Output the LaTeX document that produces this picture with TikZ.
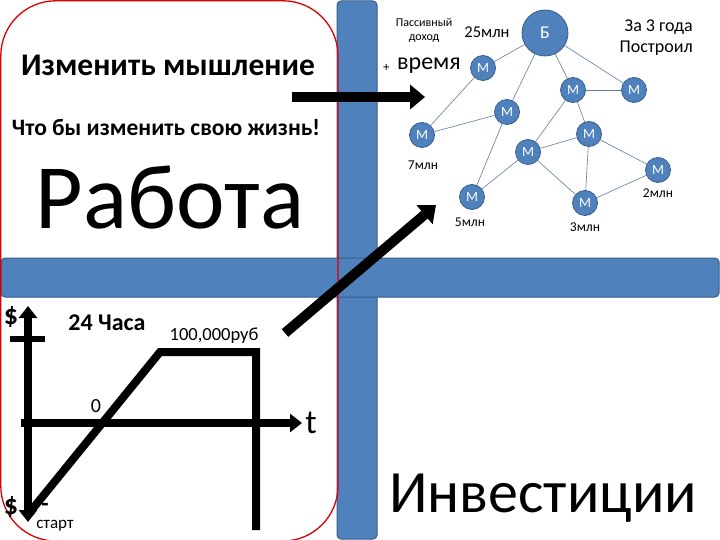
\documentclass[tikz,border=0pt]{standalone}
\usepackage{fontspec}
\setmainfont{Carlito}
\usetikzlibrary{arrows.meta}
\definecolor{barblue}{HTML}{4F81BD}
\definecolor{barline}{HTML}{385D8A}
\tikzset{
  bar/.style={fill=barblue, draw=barline, line width=1pt, rounded corners=4pt},
  fatarrow/.style={line width=10pt, -{Triangle[width=24pt,length=15pt]}},
  axisline/.style={line width=8pt},
  mnode/.style={circle, fill=barblue, draw=barline, line width=0.8pt, minimum size=25pt, inner sep=0pt, text=white, font=\fontsize{14}{14}\selectfont},
  bignode/.style={circle, fill=barblue, draw=barline, line width=0.8pt, minimum size=46pt, inner sep=0pt, text=white, font=\fontsize{18}{18}\selectfont},
  edge/.style={draw=barline!80, line width=0.6pt},
  lbl/.style={inner sep=0pt, font=\fontsize{13.5}{14}\selectfont},
}
\begin{document}
\begin{tikzpicture}[x=1pt,y=-1pt]
\useasboundingbox (0,0) rectangle (720,540);
\fill[white] (0,0) rectangle (720,540);
% bars
\draw[bar] (337,1) rectangle (377,539);
\draw[bar] (1,258) rectangle (719,297);
% red frame
\draw[red!85!black, line width=1.3pt, rounded corners=55pt] (0.8,0.8) rectangle (338,541);
% left texts
\node[inner sep=0pt, font=\bfseries\fontsize{31.5}{34}\selectfont] (t1) at (168,65) {Изменить мышление};
\node[inner sep=0pt, font=\bfseries\fontsize{23.5}{26}\selectfont] (t2) at (166,127) {Что бы изменить свою жизнь!};
\node[inner sep=0pt, font=\fontsize{92}{96}\selectfont] (t3) at (170,198) {Работа};
% arrows
\coordinate (a1s) at (292,97);
\coordinate (a1e) at (425,97);
\draw[fatarrow] (a1s) -- (a1e);
\coordinate (a2s) at (285,333);
\coordinate (a2e) at (436,205);
\draw[fatarrow] (a2s) -- (a2e);
% chart
\coordinate (vtop) at (28,306);
\coordinate (vbot) at (28,522);
\draw[axisline, {Triangle[width=18pt,length=12pt]}-{Triangle[width=18pt,length=12pt]}] (vbot) -- (vtop);
\coordinate (tk1) at (10,339);
\coordinate (tk2) at (45,339);
\draw[line width=6pt] (tk1) -- (tk2);
\coordinate (hs) at (21,423);
\coordinate (he) at (302,423);
\draw[axisline, -{Triangle[width=18pt,length=12pt]}] (hs) -- (he);
\coordinate (p0) at (30,512);
\coordinate (p1) at (160,352);
\coordinate (p2) at (256,352);
\coordinate (p3) at (256,530);
\draw[axisline, line join=miter] (p0) -- (p1) -- (p2) -- (p3);
\node[inner sep=0pt, font=\bfseries\fontsize{28}{28}\selectfont] (d1) at (11,317) {\$};
\node[inner sep=0pt, font=\bfseries\fontsize{24}{26}\selectfont] (h24) at (107,323) {24 Часа};
\node[inner sep=0pt, font=\fontsize{18.5}{20}\selectfont] (rub) at (214,336) {100,000руб};
\node[inner sep=0pt, font=\fontsize{20}{20}\selectfont] (zero) at (96,406) {0};
\node[inner sep=0pt, font=\fontsize{34}{34}\selectfont] (tt) at (311,423) {t};
\node[inner sep=0pt, font=\bfseries\fontsize{28}{28}\selectfont] (d2) at (11,507) {\$};
\node[inner sep=0pt, font=\bfseries\fontsize{24}{24}\selectfont] (mn) at (45,507) {-};
\node[inner sep=0pt, font=\fontsize{17}{17}\selectfont] (st) at (55,526) {старт};
% bottom right
\node[inner sep=0pt, font=\fontsize{60}{64}\selectfont] (inv) at (543,498) {Инвестиции};
% network
\node[bignode] (B) at (545,33) {Б};
\node[mnode] (m1) at (483,68) {М};
\node[mnode] (m2) at (573,90) {М};
\node[mnode] (m3) at (634,90) {М};
\node[mnode] (m4) at (507,112) {М};
\node[mnode] (m5) at (422,135) {М};
\node[mnode] (m6) at (589,134) {М};
\node[mnode] (m7) at (528,152) {М};
\node[mnode] (m8) at (658,170) {М};
\node[mnode] (m9) at (472,197) {М};
\node[mnode] (m10) at (585,203) {М};
\draw[edge] (B) -- (m1);
\draw[edge] (B) -- (m4);
\draw[edge] (B) -- (m2);
\draw[edge] (B) -- (m3);
\draw[edge] (m1) -- (m5);
\draw[edge] (m5) -- (m4);
\draw[edge] (m4) -- (m9);
\draw[edge] (m9) -- (m7);
\draw[edge] (m2) -- (m3);
\draw[edge] (m2) -- (m7);
\draw[edge] (m2) -- (m6);
\draw[edge] (m7) -- (m6);
\draw[edge] (m7) -- (m10);
\draw[edge] (m6) -- (m10);
\draw[edge] (m6) -- (m8);
\draw[edge] (m8) -- (m10);
\node[lbl] (l7) at (423,165) {7млн};
\node[lbl] (l5) at (470,222) {5млн};
\node[lbl] (l3) at (585,227) {3млн};
\node[lbl] (l2) at (658,193) {2млн};
\node[inner sep=0pt, font=\fontsize{16.5}{18}\selectfont] (l25) at (487,32) {25млн};
\node[inner sep=0pt, align=center, font=\fontsize{12}{14}\selectfont] (pas) at (424,30) {Пассивный\\доход};
\node[inner sep=0pt, anchor=west, font=\fontsize{13}{13}\selectfont] (plus) at (383,68) {+};
\node[inner sep=0pt, anchor=west, font=\fontsize{24}{24}\selectfont] (vr) at (397,66) {время};
\node[inner sep=0pt, align=right, anchor=east, font=\fontsize{18}{21}\selectfont] (za) at (693,38) {За 3 года\\Построил};
\end{tikzpicture}
\end{document}
